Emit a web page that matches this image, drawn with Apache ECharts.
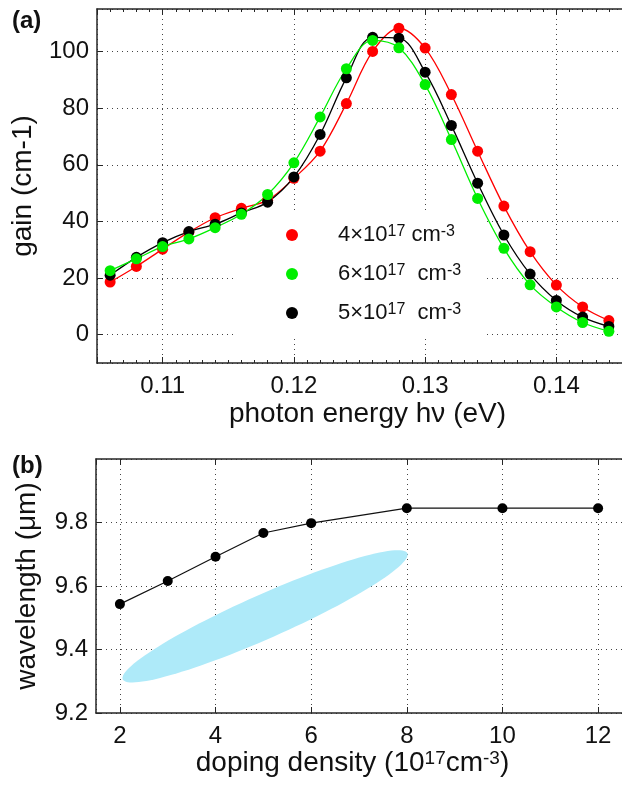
<!DOCTYPE html>
<html>
<head>
<meta charset="UTF-8">
<script src="https://cdn.jsdelivr.net/npm/echarts@6/dist/echarts.min.js"></script>
<style>
    html, body { margin: 0; padding: 0; background: #fff; }
    #chart { width: 622px; height: 785px; }
</style>
</head>
<body>
<div id="chart"></div>
<script>
    // panel (a): gain spectra
    const energy = [0.106, 0.108, 0.110, 0.112, 0.114, 0.116, 0.118, 0.120, 0.122, 0.124,
                    0.126, 0.128, 0.130, 0.132, 0.134, 0.136, 0.138, 0.140, 0.142, 0.144];
    const gain4 = [18.6, 24.1, 30.2, 36.2, 41.3, 44.6, 47.5, 55.2, 64.8, 81.6,
                   100, 108.2, 101.2, 84.8, 64.8, 45.4, 29.3, 17.5, 9.8, 5.0];
    const gain5 = [21.0, 27.3, 32.5, 36.4, 39.0, 43.0, 46.8, 55.7, 70.7, 90.7,
                   105, 104.7, 92.7, 73.9, 53.5, 35.2, 21.4, 12.1, 6.2, 2.9];
    const gain6 = [22.6, 26.8, 31.1, 33.8, 37.8, 42.5, 49.5, 60.7, 76.9, 93.9,
                   103.9, 101.3, 88.3, 68.9, 48.1, 30.5, 17.6, 9.8, 4.3, 1.2];
    const names = ['4×10^{17} cm^{-3}', '6×10^{17}  cm^{-3}', '5×10^{17}  cm^{-3}'];

    // panel (b): peak wavelength vs doping
    const doping = [2, 3, 4, 5, 6, 8, 10, 12];
    const wavelength = [9.543, 9.616, 9.692, 9.767, 9.798, 9.845, 9.845, 9.845];
    // shaded ellipse: its two tips (doping, wavelength)
    const ellipseTips = [[2.06, 9.306, 8.01, 9.703]];

    const FONT = 'Liberation Sans';
    const AX = '#262626';

    function toRich(s) {
        return '{n|' + s.replace(/\^\{([^}]*)\}/g, '}{sup|$1}{n|') + '}';
    }
    function richStyle(fs, sfs, pad) {
        return {
            n: { fontSize: fs, lineHeight: fs, fontFamily: FONT, color: '#111', verticalAlign: 'bottom' },
            sup: { fontSize: sfs, lineHeight: sfs, fontFamily: FONT, color: '#111', verticalAlign: 'top', padding: [0, 0, pad, 0] },
            sp: { width: 35 }
        };
    }

    function zip(xs, ys) {
        return xs.map(function (x, i) { return [x, ys[i]]; });
    }

    const chart = echarts.init(document.getElementById('chart'), null, { renderer: 'canvas' });

    const labelStyle = { fontSize: 24, color: '#111', fontFamily: FONT };
    const nameStyle = { fontSize: 28, color: '#111', fontFamily: FONT };
    const gridLine = { show: true, lineStyle: { type: [1, 4], color: '#444', width: 1 } };
    const boxLine = { show: true, onZero: false, lineStyle: { color: AX, width: 1.5 } };
    const tick = { inside: true, length: 6, lineStyle: { color: AX } };

    chart.setOption({
        animation: false,
        backgroundColor: '#fff',
        graphic: [
            { type: 'text', left: 12, top: 9, style: { text: '(a)', font: 'bold 24px "Liberation Sans"', fill: '#111' } },
            { type: 'text', left: 12, top: 454, style: { text: '(b)', font: 'bold 24px "Liberation Sans"', fill: '#111' } }
        ],
        grid: [
            { left: 97, top: 9, width: 529, height: 354 },
            { left: 96, top: 459, width: 529, height: 254 }
        ],
        legend: {
            data: names,
            orient: 'vertical',
            left: 234,
            top: 210,
            z: 1,
            padding: [14, 22, 6, 52],
            backgroundColor: '#fff',
            icon: 'circle',
            itemWidth: 12,
            itemHeight: 12,
            itemGap: 9,
            selectedMode: false,
            formatter: function (name) { return '{sp| }' + toRich(name); },
            textStyle: { fontSize: 22, fontFamily: FONT, color: '#111', rich: richStyle(22, 16, 14) }
        },
        xAxis: [
            {
                gridIndex: 0, type: 'value', min: 0.105, max: 0.145, splitNumber: 4, position: 'bottom',
                axisLine: boxLine, axisTick: tick,
                minorTick: { show: true, splitNumber: 10, length: 3, lineStyle: { color: AX } },
                axisLabel: Object.assign({ margin: 11, showMinLabel: false, showMaxLabel: false }, labelStyle),
                splitLine: gridLine,
                name: 'photon energy hν (eV)', nameLocation: 'middle', nameGap: 37,
                nameTextStyle: Object.assign({ padding: [0, 0, 0, 16] }, nameStyle)
            },
            {
                gridIndex: 0, type: 'value', min: 0.105, max: 0.145, splitNumber: 4, position: 'top',
                axisLine: boxLine, axisTick: tick,
                minorTick: { show: true, splitNumber: 10, length: 3, lineStyle: { color: AX } },
                axisLabel: { show: false },
                splitLine: { show: false }
            },
            {
                gridIndex: 1, type: 'value', min: 1.5, max: 12.5, splitNumber: 5, position: 'bottom',
                axisLine: boxLine, axisTick: tick,
                axisLabel: Object.assign({ margin: 11, showMinLabel: false, showMaxLabel: false }, labelStyle),
                splitLine: gridLine,
                name: toRich('doping density (10^{17}cm^{-3})'), nameLocation: 'middle', nameGap: 30,
                nameTextStyle: Object.assign({ padding: [0, 13, 0, 0], rich: richStyle(28, 19, 15) }, nameStyle)
            },
            {
                gridIndex: 1, type: 'value', min: 1.5, max: 12.5, splitNumber: 5, position: 'top',
                axisLine: boxLine, axisTick: tick,
                axisLabel: { show: false },
                splitLine: { show: false }
            }
        ],
        yAxis: [
            {
                gridIndex: 0, type: 'value', min: -10, max: 115, splitNumber: 6,
                axisLine: boxLine, axisTick: tick,
                axisLabel: Object.assign({ margin: 8, showMinLabel: false, showMaxLabel: false }, labelStyle),
                splitLine: gridLine,
                name: 'gain (cm-1)', nameLocation: 'middle', nameGap: 60,
                nameTextStyle: nameStyle
            },
            {
                gridIndex: 1, type: 'value', min: 9.2, max: 10.0, splitNumber: 4,
                axisLine: boxLine, axisTick: tick,
                axisLabel: Object.assign({ margin: 8, showMaxLabel: false }, labelStyle),
                splitLine: gridLine,
                name: 'wavelength (μm)', nameLocation: 'middle', nameGap: 55,
                nameTextStyle: nameStyle
            }
        ],
        series: [
            {
                name: names[0], type: 'line', xAxisIndex: 0, yAxisIndex: 0, smooth: 0.35, z: 3,
                data: zip(energy, gain4), symbol: 'circle', symbolSize: 11,
                itemStyle: { color: '#ff0000' }, lineStyle: { color: '#ff0000', width: 1.3 }
            },
            {
                name: names[2], type: 'line', xAxisIndex: 0, yAxisIndex: 0, smooth: 0.35, z: 3,
                data: zip(energy, gain5), symbol: 'circle', symbolSize: 11,
                itemStyle: { color: '#000000' }, lineStyle: { color: '#000000', width: 1.3 }
            },
            {
                name: names[1], type: 'line', xAxisIndex: 0, yAxisIndex: 0, smooth: 0.35, z: 3,
                data: zip(energy, gain6), symbol: 'circle', symbolSize: 11,
                itemStyle: { color: '#00ee00' }, lineStyle: { color: '#00ee00', width: 1.3 }
            },
            {
                type: 'custom', xAxisIndex: 2, yAxisIndex: 1, z: 1,
                data: ellipseTips,
                encode: { x: [0, 2], y: [1, 3] },
                renderItem: function (params, api) {
                    const p1 = api.coord([api.value(0), api.value(1)]);
                    const p2 = api.coord([api.value(2), api.value(3)]);
                    const cx = (p1[0] + p2[0]) / 2, cy = (p1[1] + p2[1]) / 2;
                    const a = Math.hypot(p2[0] - p1[0], p2[1] - p1[1]) / 2;
                    const b = 22;
                    const ang = Math.atan2(p2[1] - p1[1], p2[0] - p1[0]);
                    const pts = [];
                    for (let i = 0; i < 120; i++) {
                        const t = i / 120 * Math.PI * 2;
                        const ex = a * Math.cos(t), ey = b * Math.sin(t);
                        pts.push([cx + ex * Math.cos(ang) - ey * Math.sin(ang),
                                  cy + ex * Math.sin(ang) + ey * Math.cos(ang)]);
                    }
                    return { type: 'polygon', shape: { points: pts }, style: { fill: '#aeeaf9' } };
                }
            },
            {
                type: 'line', xAxisIndex: 2, yAxisIndex: 1, z: 3,
                data: zip(doping, wavelength), symbol: 'circle', symbolSize: 10,
                itemStyle: { color: '#000' }, lineStyle: { color: '#111', width: 1.2 }
            }
        ]
    });
</script>
</body>
</html>
